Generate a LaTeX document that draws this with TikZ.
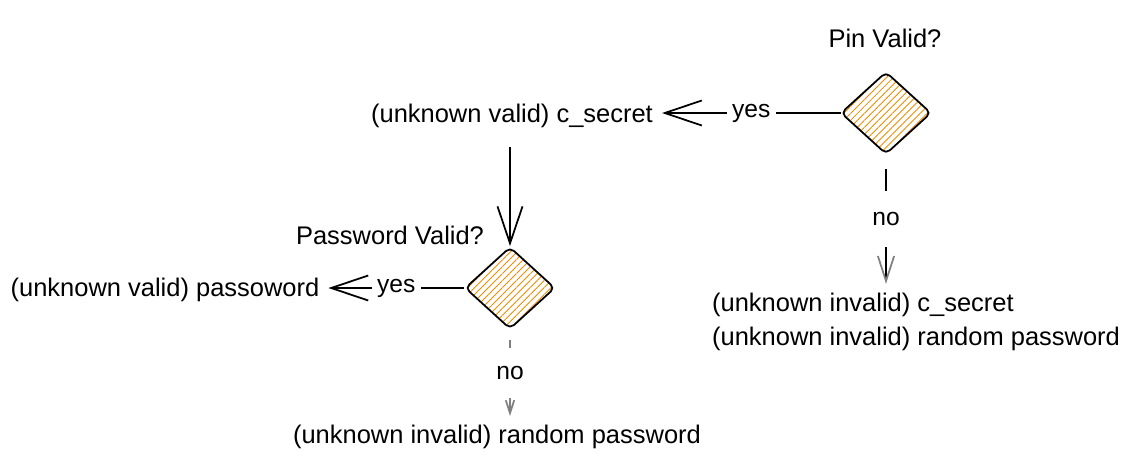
\documentclass[tikz,border=0pt]{standalone}
\usepackage{fontspec}
\setmainfont{Liberation Sans}
\usepackage{tikz}
\usetikzlibrary{arrows.meta,shapes.geometric,patterns.meta}
\definecolor{hatch}{RGB}{240,140,0}

\begin{document}
\begin{tikzpicture}[x=0.02cm,y=-0.02cm,
  txt/.style={font=\fontsize{14.5}{19.5}\selectfont, inner sep=5pt},
  decide/.style={draw,diamond,rounded corners=3pt,line width=1pt,inner sep=0pt,
    minimum width=1.8cm,minimum height=1.64cm,
    pattern={Lines[angle=45,distance=2.8pt,line width=0.5pt]},pattern color=hatch},
  flow/.style={line width=1pt,-{Straight Barb[length=0.74cm,width=0.5cm]}},
  small/.style={line width=1pt,-{Straight Barb[length=#1,width=0.65*#1,color=gray]}},
  lbl/.style={fill=white,text=black,font=\fontsize{14}{17}\selectfont,inner sep=3pt}]
 \useasboundingbox (0,0) rectangle (1135,463);
 % pin check
 \node[txt] at (885,38) (PINQ) {Pin Valid?};
 \node[decide] at (886,113) (PIN) {};
 \node[txt] at (512,116) (CSV) {(unknown valid) c\_secret};
 \node[txt,align=left,anchor=west] at (703,322) (INV)
   {(unknown invalid) c\_secret\\(unknown invalid) random password};
 % password check
 \node[txt] at (390,235) (PWQ) {Password Valid?};
 \node[decide] at (510,288) (PWD) {};
 \node[txt] at (165,290) (PWV) {(unknown valid) passoword};
 \node[txt] at (497,437) (RND) {(unknown invalid) random password};
 % arrows
 \draw[flow] (PIN.west) -- (CSV.east |- PIN.west) node[lbl,midway]{yes};
 \draw[small=0.5cm,shorten <=0.3cm] (PIN.south) -- (PIN.south |- INV.north)
   node[lbl,midway,minimum height=1.12cm]{no};
 \draw[flow,shorten <=0.2cm] (CSV.south -| PWD.north) -- (PWD.north);
 \draw[flow] (PWD.west) -- (PWV.east |- PWD.west) node[lbl,midway]{yes};
 \draw[small=0.26cm,gray,shorten <=0.2cm] (PWD.south) -- (PWD.south |- RND.north)
   node[lbl,midway,minimum height=1cm]{no};
\end{tikzpicture}
\end{document}
